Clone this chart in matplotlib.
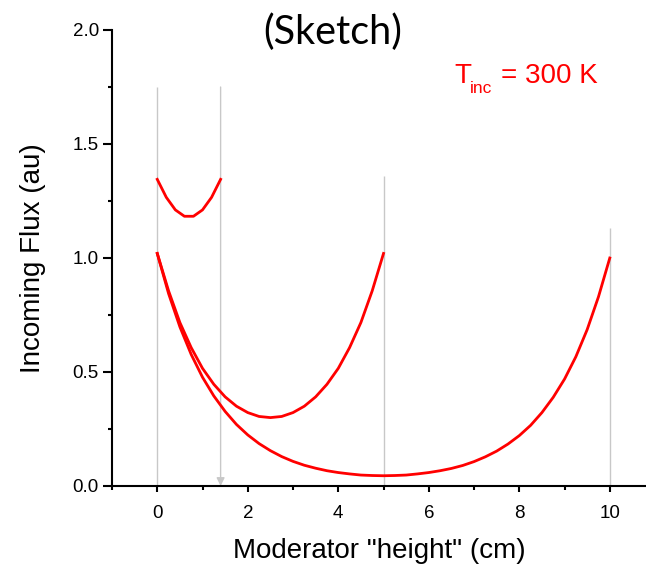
import numpy as np
import matplotlib.pyplot as plt
from matplotlib.ticker import MultipleLocator, FormatStrFormatter

# ---- data ----
# short moderator (0 .. 1.4 cm)
x_short = [0.0, 0.2, 0.4, 0.6, 0.8, 1.0, 1.2, 1.4]
flux_short = [1.345, 1.266, 1.211, 1.183, 1.183, 1.211, 1.266, 1.345]

# 5 cm moderator
x_mid = [0.0, 0.25, 0.5, 0.75, 1.0, 1.25, 1.5, 1.75, 2.0, 2.25, 2.5,
         2.75, 3.0, 3.25, 3.5, 3.75, 4.0, 4.25, 4.5, 4.75, 5.0]
flux_mid = [1.02, 0.856, 0.717, 0.607, 0.516, 0.446, 0.391, 0.350, 0.322, 0.305, 0.300,
            0.305, 0.322, 0.350, 0.391, 0.446, 0.516, 0.607, 0.717, 0.856, 1.02]

# 10 cm moderator
x_long = [0.0, 0.25, 0.5, 0.75, 1.0, 1.25, 1.5, 1.75, 2.0, 2.25, 2.5,
          2.75, 3.0, 3.25, 3.5, 3.75, 4.0, 4.25, 4.5, 4.75, 5.0,
          5.25, 5.5, 5.75, 6.0, 6.25, 6.5, 6.75, 7.0, 7.25, 7.5,
          7.75, 8.0, 8.25, 8.5, 8.75, 9.0, 9.25, 9.5, 9.75, 10.0]
flux_long = [1.02, 0.844, 0.698, 0.577, 0.477, 0.395, 0.327, 0.270, 0.224, 0.186, 0.155,
             0.129, 0.108, 0.091, 0.078, 0.067, 0.059, 0.053, 0.048, 0.046, 0.045,
             0.046, 0.048, 0.053, 0.059, 0.067, 0.077, 0.090, 0.107, 0.128, 0.153,
             0.184, 0.221, 0.266, 0.322, 0.389, 0.469, 0.567, 0.686, 0.830, 1.00]

# grey guide lines: (x position, top)
guide_x = [0.0, 5.0, 10.0]
guide_top = [1.75, 1.36, 1.13]
arrow_x = 1.4
arrow_top = 1.75

W, H = 646, 566
fig = plt.figure(figsize=(W / 100, H / 100), dpi=100)
ax = fig.add_axes([112 / W, 80 / H, 534 / W, 456 / H])

grey = "#c8c8c8"
ax.vlines(guide_x, 0, guide_top, colors=grey, linewidth=1.0, zorder=1)
ax.annotate("", xy=(arrow_x, 0.0), xytext=(arrow_x, arrow_top),
            arrowprops=dict(arrowstyle="-|>", color=grey, lw=1.0,
                            mutation_scale=12, shrinkA=0, shrinkB=0),
            zorder=1)

red = "#ff0000"
ax.plot(x_short, flux_short, color=red, linewidth=2.0, zorder=3)
ax.plot(x_mid, flux_mid, color=red, linewidth=2.0, zorder=3)
ax.plot(x_long, flux_long, color=red, linewidth=2.0, zorder=3)

ax.set_xlim(-1, 10.8)
ax.set_ylim(0, 2.0)

for side in ["top", "right"]:
    ax.spines[side].set_visible(False)
for side in ["left", "bottom"]:
    ax.spines[side].set_linewidth(1.5)

ax.xaxis.set_major_locator(MultipleLocator(2))
ax.xaxis.set_minor_locator(MultipleLocator(1))
ax.yaxis.set_major_locator(MultipleLocator(0.5))
ax.yaxis.set_minor_locator(MultipleLocator(0.25))
ax.yaxis.set_major_formatter(FormatStrFormatter("%.1f"))

ax.tick_params(which="major", direction="out", width=1.5, labelsize=13.5)
ax.tick_params(axis="y", which="major", length=6.5, pad=3)
ax.tick_params(axis="x", which="major", length=4.5, pad=9)
ax.tick_params(which="minor", direction="out", length=3, width=1.5)
for lbl in ax.get_xticklabels() + ax.get_yticklabels():
    lbl.set_family("Liberation Sans")

ax.set_xlabel('Moderator "height" (cm)', fontsize=20, family="Liberation Sans",
              labelpad=12)
ax.set_ylabel("Incoming Flux (au)", fontsize=20, family="Liberation Sans",
              labelpad=19)

fig.text(333 / W, 1 - 32 / H, "(Sketch)", fontsize=28.5, family="Lato",
         ha="center", va="center")

# T_inc = 300 K, drawn piecewise so the subscript sits low like the sketch
fig.text(454 / W, 1 - 83 / H, "T", fontsize=20, color=red,
         family="Liberation Sans", va="baseline")
fig.text(470 / W, 1 - 93 / H, "inc", fontsize=12.5, color=red,
         family="Liberation Sans", va="baseline")
fig.text(501 / W, 1 - 83 / H, "= 300 K", fontsize=20, color=red,
         family="Liberation Sans", va="baseline")

fig.savefig("out.png", dpi=100)
